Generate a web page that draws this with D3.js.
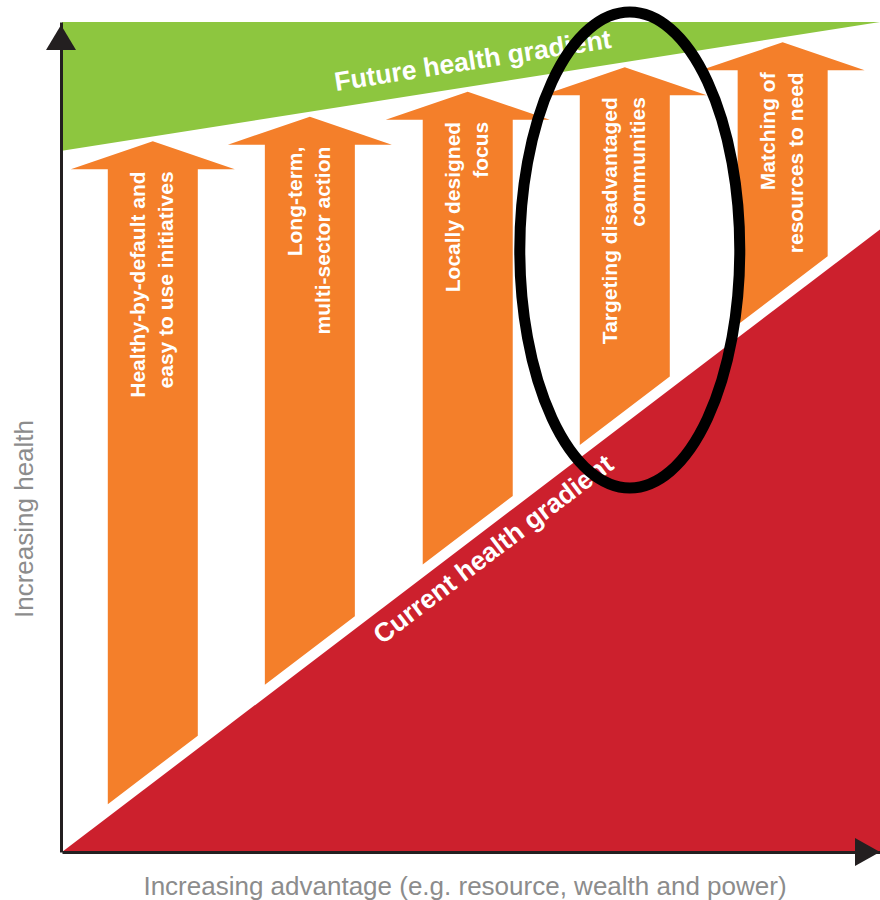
<!DOCTYPE html>
<html>
<head>
<meta charset="utf-8">
<script src="https://cdn.jsdelivr.net/npm/d3@7"></script>
<style>
  body { margin: 0; background: #fff; }
  text { font-family: "Liberation Sans", Arial, sans-serif; }
</style>
</head>
<body>
<div id="plot"></div>
<script>
let svgWidth = 880;
let svgHeight = 900;

// gradients, as [advantage, health] end points (0-100 on both axes)
let currentGradient = [[0, 0], [100, 75]];
let futureGradient = [[0, 84.5], [100, 100]];

// the five arrows: position along the advantage axis and their two text lines
let arrowPos = [11.1, 30.3, 49.6, 68.8, 88.1];
let arrowLine1 = ['Healthy-by-default and', 'Long-term,', 'Locally designed', 'Targeting disadvantaged', 'Matching of'];
let arrowLine2 = ['easy to use initiatives', 'multi-sector action', 'focus', 'communities', 'resources to need'];

let xLabel = 'Increasing advantage (e.g. resource, wealth and power)';
let yLabel = 'Increasing health';
let futureLabel = 'Future health gradient';
let currentLabel = 'Current health gradient';
let circledArrow = 3;

let x = d3.scaleLinear().domain([0, 100]).range([62, 880]);
let y = d3.scaleLinear().domain([0, 100]).range([852, 22]);

let lineAt = (g, v) => g[0][1] + (g[1][1] - g[0][1]) * (v - g[0][0]) / (g[1][0] - g[0][0]);
let pyCurrent = px => y(lineAt(currentGradient, x.invert(px)));
let pyFuture = px => y(lineAt(futureGradient, x.invert(px)));

let svg = d3.select('#plot')
    .append('svg')
        .attr('width', svgWidth)
        .attr('height', svgHeight);

// green band (future gradient)
svg.append('polygon')
    .attr('points', [
        [x(0), y(100)],
        [x(100), y(100)],
        [x(futureGradient[1][0]), y(futureGradient[1][1])],
        [x(futureGradient[0][0]), y(futureGradient[0][1])]
    ].map(p => p.join(',')).join(' '))
    .attr('fill', '#8dc63f');

// red area (current gradient)
svg.append('polygon')
    .attr('points', [
        [x(currentGradient[0][0]), y(currentGradient[0][1])],
        [x(currentGradient[1][0]), y(currentGradient[1][1])],
        [x(100), y(0)]
    ].map(p => p.join(',')).join(' '))
    .attr('fill', '#cc202d');

let shaftHalf = 45;
let headHalf = 82;
let headH = 28;
let arrowData = arrowPos.map((p, i) => {
    let cx = x(p);
    let tip = pyFuture(cx) + 5;
    return {
        cx: cx,
        tip: tip,
        base: tip + headH,
        l1: arrowLine1[i],
        l2: arrowLine2[i],
        bl: pyCurrent(cx - shaftHalf) - 13,
        br: pyCurrent(cx + shaftHalf) - 13
    };
});

let arrows = svg.selectAll('.arrow')
    .data(arrowData)
    .join('g')
        .attr('class', 'arrow');

arrows.append('path')
    .attr('d', d => `M${d.cx},${d.tip}L${d.cx + headHalf},${d.base}L${d.cx + shaftHalf},${d.base}` +
        `L${d.cx + shaftHalf},${d.br}L${d.cx - shaftHalf},${d.bl}L${d.cx - shaftHalf},${d.base}` +
        `L${d.cx - headHalf},${d.base}Z`)
    .attr('fill', '#f47f2a');

arrows.append('text')
    .attr('transform', d => `translate(${d.cx - 8},${d.base + 2}) rotate(-90)`)
    .attr('text-anchor', 'end')
    .attr('fill', '#fff')
    .attr('font-weight', 'bold')
    .attr('font-size', 21)
    .text(d => d.l1);

arrows.append('text')
    .attr('transform', d => `translate(${d.cx + 20.5},${d.base + 2}) rotate(-90)`)
    .attr('text-anchor', 'end')
    .attr('fill', '#fff')
    .attr('font-weight', 'bold')
    .attr('font-size', 21)
    .text(d => d.l2);

// gradient labels
let angleOf = g => Math.atan2(y(g[1][1]) - y(g[0][1]), x(g[1][0]) - x(g[0][0])) * 180 / Math.PI;

svg.append('text')
    .attr('transform', `translate(336,91) rotate(${angleOf(futureGradient)})`)
    .attr('fill', '#fff')
    .attr('font-weight', 'bold')
    .attr('font-size', 26.5)
    .text(futureLabel);

svg.append('text')
    .attr('transform', `translate(382,645) rotate(${angleOf(currentGradient)})`)
    .attr('fill', '#fff')
    .attr('font-weight', 'bold')
    .attr('font-size', 26.5)
    .text(currentLabel);

// axes
let xAxis = svg.append('g')
    .attr('transform', `translate(0,${y(0)})`)
    .call(d3.axisBottom(x).ticks(0).tickSizeOuter(0));
let yAxis = svg.append('g')
    .attr('transform', `translate(${x(0) - 1},0)`)
    .call(d3.axisLeft(y).ticks(0).tickSizeOuter(0));
svg.selectAll('.domain')
    .attr('stroke', '#231f20')
    .attr('stroke-width', 3);

svg.append('path')
    .attr('d', `M${x(100)},${y(0)}L${x(100) - 25},${y(0) - 14}L${x(100) - 25},${y(0) + 14}Z`)
    .attr('fill', '#231f20');
svg.append('path')
    .attr('d', `M${x(0) - 1},${y(100) + 3}L${x(0) - 16},${y(100) + 28}L${x(0) + 14},${y(100) + 28}Z`)
    .attr('fill', '#231f20');

svg.append('text')
    .attr('x', 465)
    .attr('y', 895)
    .attr('text-anchor', 'middle')
    .attr('fill', '#8c8c8c')
    .attr('font-size', 26)
    .text(xLabel);

svg.append('text')
    .attr('transform', 'translate(33,519) rotate(-90)')
    .attr('text-anchor', 'middle')
    .attr('fill', '#8c8c8c')
    .attr('font-size', 26)
    .text(yLabel);

// highlight ring round one arrow
svg.append('ellipse')
    .attr('cx', arrowData[circledArrow].cx + 5)
    .attr('cy', 250)
    .attr('rx', 110)
    .attr('ry', 238)
    .attr('fill', 'none')
    .attr('stroke', '#000')
    .attr('stroke-width', 11);
</script>
</body>
</html>
